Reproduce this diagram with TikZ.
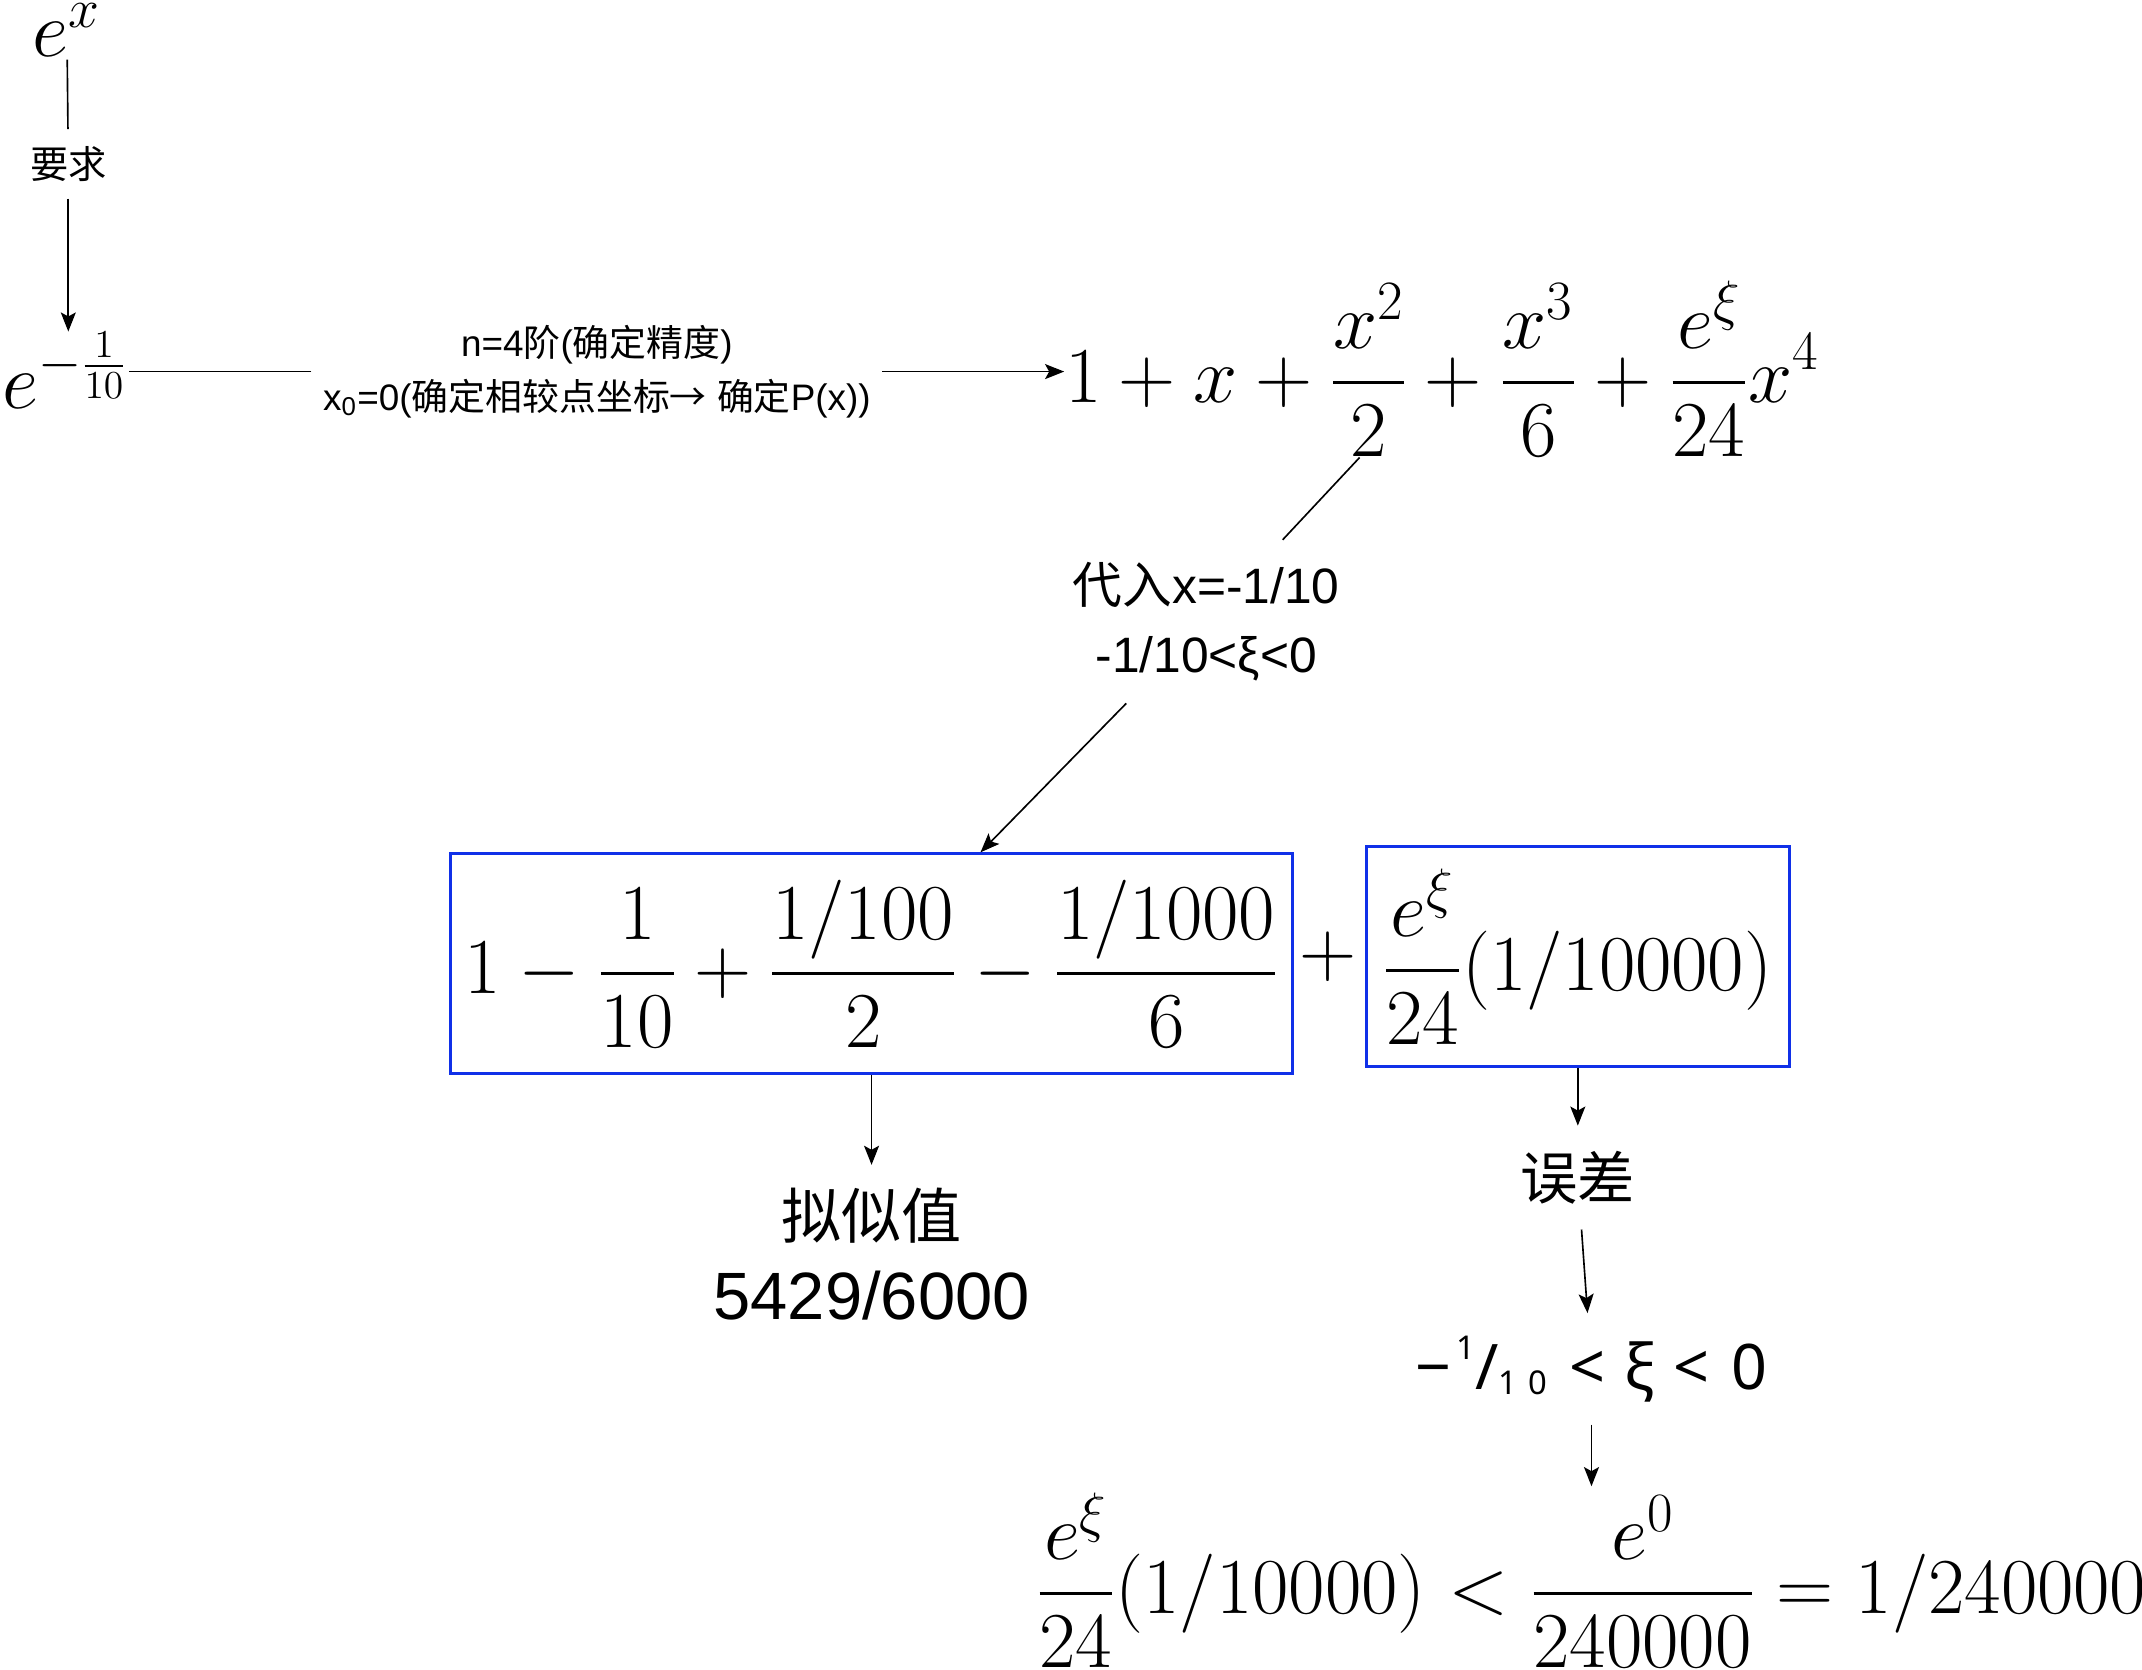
\RequirePackage{fix-cm}
\documentclass[tikz,border=0pt]{standalone}
\usepackage{amsmath}
\usepackage{fontspec}
\setmainfont{Liberation Sans}
\newfontfamily\cjk{Noto Sans CJK SC}
\newfontfamily\notosans{Noto Sans}
\usetikzlibrary{positioning,arrows.meta}
\definecolor{boxbd}{HTML}{1030E8}
\newcommand{\zh}[1]{{\cjk #1}}
\newcommand{\smalldigits}[1]{{\fontsize{12}{12}\selectfont #1}}

\tikzset{
  mathnode/.style={inner sep=2pt,font=\fontsize{29}{35}\selectfont},
  lbl/.style={align=center,inner sep=4pt},
  arr/.style={-{Stealth[length=7pt,width=5.5pt,inset=1.5pt]}},
  resbox/.style={draw=boxbd,line width=1.1pt,minimum height=80.5pt,mathnode}
}

\begin{document}
\begin{tikzpicture}[x=0.5pt,y=-0.5pt,line width=0.6pt]
\useasboundingbox (0,0) rectangle (1568,1222);

% start: e^x and its value at -1/10
\node[mathnode,anchor=base,inner sep=1pt] (ex) at (49,41) {$e^{x}$};
\node[lbl,font=\fontsize{14}{17}\selectfont\cjk,inner sep=6pt] (req) at (50,120) {要求};
\node[mathnode,anchor=base west,inner sep=0pt] (ey) at (1,299) {$e^{-\frac{1}{10}}$};
\node[lbl,font=\fontsize{13.5}{19.5}\selectfont] (cond) at (437,272)
  {n=4\zh{阶}(\zh{确定精度})\\x\textsubscript{0}=0(\zh{确定相较点坐标→} \zh{确定}P(x))};
\node[mathnode,anchor=base west,inner sep=0pt] (taylor) at (779,294.5)
  {$\displaystyle 1+x+\frac{x^2}{2}+\frac{x^3}{6}+\frac{e^{\xi}}{24}x^4$};

% substitution
\node[lbl,font=\fontsize{18.2}{25}\selectfont,inner sep=8pt] (subst) at (883,455)
  {\zh{代入}x=-1/10\\-1/10<ξ<0};

% approximation + remainder
\node[resbox,minimum width=308pt] (approxbox) at (638,705.5)
  {$\displaystyle 1-\frac{1}{10}+\frac{1/100}{2}-\frac{1/1000}{6}$};
\node[mathnode] (plus) at (972,700) {$+$};
\node[resbox,minimum width=155pt] (errbox) at (1155,700.5)
  {$\displaystyle\frac{e^{\xi}}{24}(1/10000)$};

% results
\node[lbl,font=\fontsize{22}{30}\selectfont,inner sep=8pt] (approx) at (638,918)
  {\zh{拟似值}\\{\fontsize{24.5}{30}\selectfont 5429/6000}};
\node[lbl,font=\fontsize{21}{25}\selectfont\cjk,inner sep=9pt] (err) at (1155,862) {误差};
\node[lbl,font=\fontsize{23}{26}\selectfont\notosans,inner sep=8pt] (range) at (1165,1002)
  {−\kern2pt\raisebox{11pt}{\smalldigits{1}}/\raisebox{-1.8pt}{\smalldigits{1\hspace{4pt}0}}%
   \hspace{8pt}<\hspace{7pt}ξ\hspace{7pt}<\hspace{8pt}0};
\node[mathnode,anchor=base,inner sep=2pt] (bound) at (1165,1181)
  {$\displaystyle\frac{e^{\xi}}{24}(1/10000)<\frac{e^0}{240000}=1/240000$};

% connectors
\draw (ex) -- (req);
\draw[arr] (req) -- (req |- ey.north);
\draw (cond.west) -- (cond.west -| ey.east);
\draw[arr] (cond.east) -- (cond.east -| taylor.west);
\draw (taylor) -- (subst);
\draw[arr] (subst) -- (approxbox);
\draw[arr] (approxbox) -- (approx);
\draw[arr] (errbox) -- (err);
\draw[arr] (err) -- (range);
\draw[arr] (range) -- (bound);
\end{tikzpicture}
\end{document}
